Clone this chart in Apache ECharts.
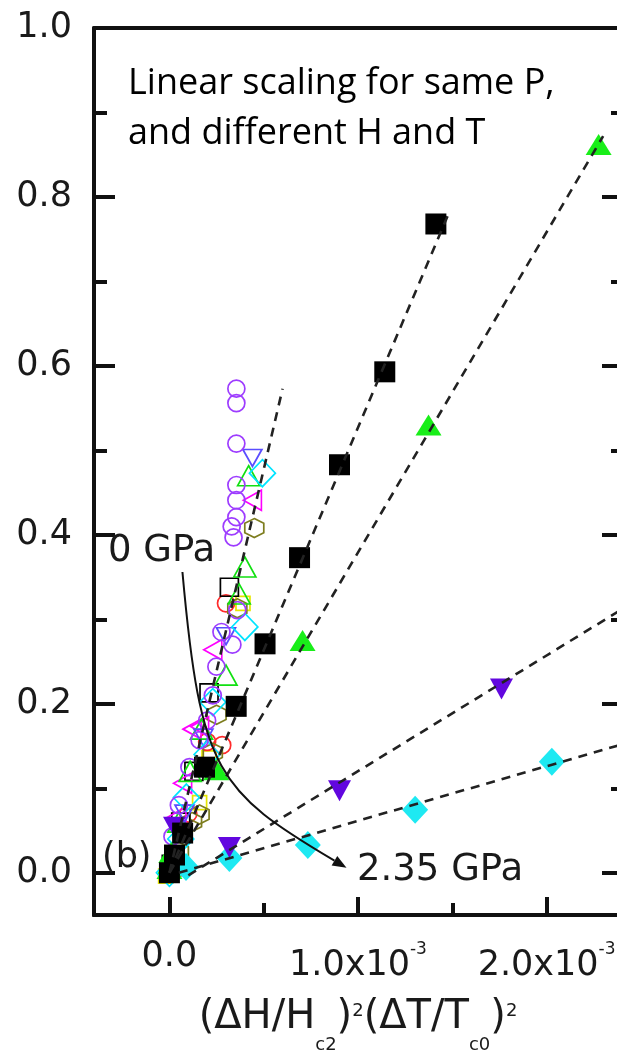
<!DOCTYPE html>
<html>
<head>
<meta charset="utf-8">
<script src="https://cdn.jsdelivr.net/npm/echarts@6/dist/echarts.min.js"></script>
<style>
  html, body { margin: 0; padding: 0; background: #fff; }
  #wrap { position: relative; width: 617px; height: 1052px; }
  #chart, #ticks { position: absolute; left: 0; top: 0; width: 617px; height: 1052px; }
  #ticks { pointer-events: none; }
</style>
</head>
<body>
<div id="wrap">
  <div id="chart"></div>
  <div id="ticks"></div>
</div>
<script>
// x values are (ΔH/Hc2)^2(ΔT/Tc0)^2 in units of 1e-3; y values are the scaled quantity.

// tick positions
const yMajorTicks = [0, 0.2, 0.4, 0.6, 0.8, 1.0];
const yMinorTicks = [0.1, 0.3, 0.5, 0.7, 0.9];
const xMajorTicks = [0, 1, 2];
const xMinorTicks = [0.5, 1.5];

// open symbols: low-pressure runs (steep branch)
const violetCircles = [[0.0, 0.0], [0.016, 0.043], [0.05, 0.08], [0.106, 0.125], [0.16, 0.157], [0.2, 0.18],
  [0.23, 0.21], [0.249, 0.244], [0.276, 0.285], [0.334, 0.27], [0.36, 0.311], [0.34, 0.397], [0.33, 0.41],
  [0.355, 0.421], [0.355, 0.441], [0.355, 0.459], [0.355, 0.508], [0.355, 0.556], [0.355, 0.573]];
const greenOpenTriangles = [[0.0, 0.01], [0.05, 0.06], [0.11, 0.12], [0.17, 0.17], [0.3, 0.234], [0.37, 0.33],
  [0.40, 0.362], [0.42, 0.47]];
const blackOpenSquares = [[0.01, 0.01], [0.06, 0.06], [0.13, 0.12], [0.21, 0.213], [0.318, 0.338]];
const magentaOpenTriangles = [[0.04, 0.066], [0.07, 0.106], [0.12, 0.17], [0.16, 0.173], [0.23, 0.264], [0.44, 0.441]];
const oliveOpenHexagons = [[0.02, 0.005], [0.05, 0.025], [0.12, 0.06], [0.16, 0.069], [0.23, 0.142], [0.25, 0.187],
  [0.36, 0.313], [0.45, 0.408]];
const cyanOpenDiamonds = [[0.0, 0.0], [0.06, 0.04], [0.09, 0.089], [0.2, 0.14], [0.23, 0.202], [0.4, 0.291], [0.493, 0.473]];
const blueOpenDownTriangles = [[0.08, 0.07], [0.18, 0.16], [0.3, 0.28], [0.44, 0.491]];
const redOpenCircles = [[0.02, 0.0], [0.1, 0.07], [0.28, 0.151], [0.2, 0.155], [0.3, 0.319]];
const yellowOpenSquares = [[-0.02, -0.004], [0.16, 0.083], [0.21, 0.136], [0.39, 0.319]];

// filled symbols: higher-pressure runs
const blackFilledSquares = [[0.0, 0.0], [0.027, 0.021], [0.07, 0.047], [0.186, 0.125], [0.354, 0.197],
  [0.507, 0.271], [0.69, 0.373], [0.902, 0.483], [1.142, 0.593], [1.413, 0.768]];
const greenFilledTriangles = [[0.0, 0.005], [0.01, 0.024], [0.248, 0.122], [0.706, 0.275], [1.374, 0.530], [2.276, 0.862]];
const violetFilledDownTriangles = [[0.027, 0.054], [0.318, 0.03], [0.902, 0.097], [1.761, 0.2175]];
const cyanFilledDiamonds = [[0.088, 0.0067], [0.318, 0.0174], [0.734, 0.033], [1.303, 0.0745], [2.028, 0.1315]];

// linear fits (end points)
const fitLowP = [[0, 0], [0.6, 0.573]];
const fitBlack = [[0, 0], [1.48, 0.78]];
const fitGreen = [[0, 0], [2.3, 0.872]];
const fitViolet = [[0.1, -0.003], [2.4, 0.312]];
const fitCyan = [[0.05, 0.0], [2.4, 0.152]];

// pressure arrow from 0 GPa to 2.35 GPa (cubic Bezier control points, data units)
const pressureArrow = [[0.069, 0.356], [0.164, 0.119], [0.255, 0.0963], [0.939, 0.0059]];

const X_MIN = -0.4, X_MAX = 2.4, Y_MIN = -0.05, Y_MAX = 1.0;
const FONT = 'DejaVu Sans';
const INK = '#111';
const LABEL = '#1a1a1a';
const HEX = 'path://M0,-10 L8.66,-5 L8.66,5 L0,10 L-8.66,5 L-8.66,-5 Z';
const PLOT = { left: 94, top: 28, right: -5, bottom: 137, outerBoundsMode: 'none', containLabel: false };

function openSet(data, symbol, size, color, rotate) {
  return {
    type: 'scatter', data, symbol, symbolSize: size, symbolRotate: rotate || 0,
    itemStyle: { color: 'rgba(0,0,0,0)', borderColor: color, borderWidth: 1.7, opacity: 1 },
    z: 2, silent: true, animation: false
  };
}
function filledSet(data, symbol, size, color, rotate) {
  return {
    type: 'scatter', data, symbol, symbolSize: size, symbolRotate: rotate || 0,
    itemStyle: { color, opacity: 1 }, z: 3, silent: true, animation: false
  };
}
function fitLine(data) {
  return {
    type: 'line', data, symbol: 'none', showSymbol: false, silent: true, animation: false,
    lineStyle: { color: '#222', width: 2.6, type: [9, 7] }, z: 4
  };
}

function yAxisDef(position, ticks, len, showLine) {
  return {
    type: 'value', min: Y_MIN, max: Y_MAX, position,
    axisLine: { show: showLine, onZero: false, lineStyle: { color: INK, width: 4 } },
    axisTick: { inside: true, length: len, customValues: ticks, lineStyle: { color: INK, width: 4 } },
    axisLabel: { show: false },
    splitLine: { show: false }
  };
}

const leftMajor = yAxisDef('left', yMajorTicks, 21, true);
leftMajor.axisLabel = {
  show: true, customValues: yMajorTicks, margin: 22,
  formatter: v => v.toFixed(1),
  fontFamily: FONT, fontSize: 35, color: LABEL
};

const option = {
  animation: false,
  backgroundColor: '#fff',
  grid: PLOT,
  xAxis: [
    {
      type: 'value', min: X_MIN, max: X_MAX, position: 'bottom',
      axisLine: { onZero: false, lineStyle: { color: INK, width: 4 } },
      axisTick: { show: false },
      axisLabel: {
        customValues: xMajorTicks, margin: 22,
        formatter: v => v === 0 ? '{z|0.0}' : '{n|' + v.toFixed(1) + 'x10}{sup|-3}',
        rich: {
          z: { fontFamily: FONT, fontSize: 35, lineHeight: 40, color: LABEL },
          n: { fontFamily: FONT, fontSize: 35, lineHeight: 58, color: LABEL },
          sup: { fontFamily: FONT, fontSize: 17, verticalAlign: 'top', padding: [4, 0, 0, 0], color: LABEL }
        }
      },
      splitLine: { show: false },
      name: '{m|(ΔH/H}{sub|c2}{m|)}{sup|2}{m|(ΔT/T}{sub|c0}{m|)}{sup|2}',
      nameLocation: 'middle', nameGap: 67,
      nameTextStyle: {
        fontFamily: FONT, fontSize: 40, color: LABEL,
        rich: {
          m: { fontFamily: FONT, fontSize: 40, lineHeight: 72, verticalAlign: 'middle', color: LABEL },
          sub: { fontFamily: FONT, fontSize: 18, verticalAlign: 'bottom', color: LABEL },
          sup: { fontFamily: FONT, fontSize: 18, verticalAlign: 'top', padding: [20, 0, 0, 0], color: LABEL }
        }
      }
    },
    {
      type: 'value', min: X_MIN, max: X_MAX, position: 'top',
      axisLine: { onZero: false, lineStyle: { color: INK, width: 4 } },
      axisTick: { show: false }, axisLabel: { show: false }, splitLine: { show: false }
    }
  ],
  yAxis: [
    leftMajor,
    yAxisDef('left', yMinorTicks, 13, false),
    yAxisDef('right', yMajorTicks, 20, true),
    yAxisDef('right', yMinorTicks, 11, false)
  ],
  series: [
    openSet(yellowOpenSquares, 'rect', 14, '#e6e600'),
    openSet(redOpenCircles, 'circle', 17, '#ff2a2a'),
    openSet(oliveOpenHexagons, HEX, 19, '#7d7d1e'),
    openSet(blackOpenSquares, 'rect', 18, '#000'),
    openSet(magentaOpenTriangles, 'triangle', [20, 18], '#ff00ff', 90),
    openSet(greenOpenTriangles, 'triangle', [22, 20], '#11e011'),
    openSet(blueOpenDownTriangles, 'triangle', [19, 17], '#5a4dff', 180),
    openSet(cyanOpenDiamonds, 'diamond', [26, 27], '#00e4ff'),
    openSet(violetCircles, 'circle', 17, '#9d3cff'),
    filledSet(cyanFilledDiamonds, 'diamond', [26, 28], '#1ee9f2'),
    filledSet(violetFilledDownTriangles, 'triangle', [23, 21], '#6207df', 180),
    filledSet(greenFilledTriangles, 'triangle', [26, 21], '#19ee19'),
    filledSet(blackFilledSquares, 'rect', 21, '#000'),
    fitLine(fitLowP),
    fitLine(fitBlack),
    fitLine(fitGreen),
    fitLine(fitViolet),
    fitLine(fitCyan)
  ],
  graphic: [
    {
      id: 'caption', type: 'text', left: 128, top: 59, z: 10,
      style: { text: 'Linear scaling for same P,\nand different H and T', font: '36px "Open Sans"', lineHeight: 50, fill: '#000' }
    },
    {
      id: 'p0', type: 'text', x: 108, y: 551, z: 10,
      style: { text: '0 GPa', font: '37px "DejaVu Sans"', fill: LABEL, verticalAlign: 'middle' }
    },
    {
      id: 'p1', type: 'text', x: 357, y: 870, z: 10,
      style: { text: '2.35 GPa', font: '37px "DejaVu Sans"', fill: LABEL, verticalAlign: 'middle' }
    },
    {
      id: 'panel', type: 'text', x: 102, y: 858, z: 10,
      style: { text: '(b)', font: '35px "DejaVu Sans"', fill: LABEL, verticalAlign: 'middle' }
    }
  ]
};

const chart = echarts.init(document.getElementById('chart'), null, { renderer: 'canvas' });
chart.setOption(option);

// curved pressure arrow, placed through the grid's coordinate system
const toPx = p => chart.convertToPixel({ xAxisIndex: 0, yAxisIndex: 0 }, p);
const [p0, p1, p2, p3] = pressureArrow.map(toPx);
const dx = p3[0] - p2[0], dy = p3[1] - p2[1];
const len = Math.hypot(dx, dy);
const ux = dx / len, uy = dy / len;
const headLen = 14, headHalf = 5.5;
const base = [p3[0] - ux * headLen, p3[1] - uy * headLen];
chart.setOption({
  graphic: [
    {
      id: 'arrowCurve', type: 'bezierCurve', z: 9, silent: true,
      shape: { x1: p0[0], y1: p0[1], cpx1: p1[0], cpy1: p1[1], cpx2: p2[0], cpy2: p2[1], x2: base[0], y2: base[1] },
      style: { stroke: '#111', lineWidth: 2, fill: null }
    },
    {
      id: 'arrowHead', type: 'polygon', z: 9, silent: true,
      shape: { points: [p3, [base[0] - uy * headHalf, base[1] + ux * headHalf], [base[0] + uy * headHalf, base[1] - ux * headHalf]] },
      style: { fill: '#111' }
    }
  ]
});

// bottom-axis tick marks: a transparent layer with the same plot box and x scale
function tickAxis(gridIndex, ticks, tickLen) {
  return {
    type: 'value', gridIndex, min: X_MIN, max: X_MAX, position: 'bottom',
    axisLine: { show: true, onZero: false, lineStyle: { color: INK, width: 4 } },
    axisTick: { show: true, inside: true, length: tickLen, customValues: ticks, lineStyle: { color: INK, width: 4 } },
    axisLabel: { show: false }, splitLine: { show: false }
  };
}
function quietY(gridIndex) {
  return {
    type: 'value', gridIndex, min: Y_MIN, max: Y_MAX,
    axisLine: { show: false }, axisTick: { show: false }, axisLabel: { show: false }, splitLine: { show: false }
  };
}
const tickLayer = echarts.init(document.getElementById('ticks'), null, { renderer: 'canvas' });
tickLayer.setOption({
  animation: false,
  backgroundColor: 'transparent',
  grid: [Object.assign({}, PLOT), Object.assign({}, PLOT)],
  xAxis: [tickAxis(0, xMajorTicks, 18), tickAxis(1, xMinorTicks, 12)],
  yAxis: [quietY(0), quietY(1)],
  series: []
});
</script>
</body>
</html>
